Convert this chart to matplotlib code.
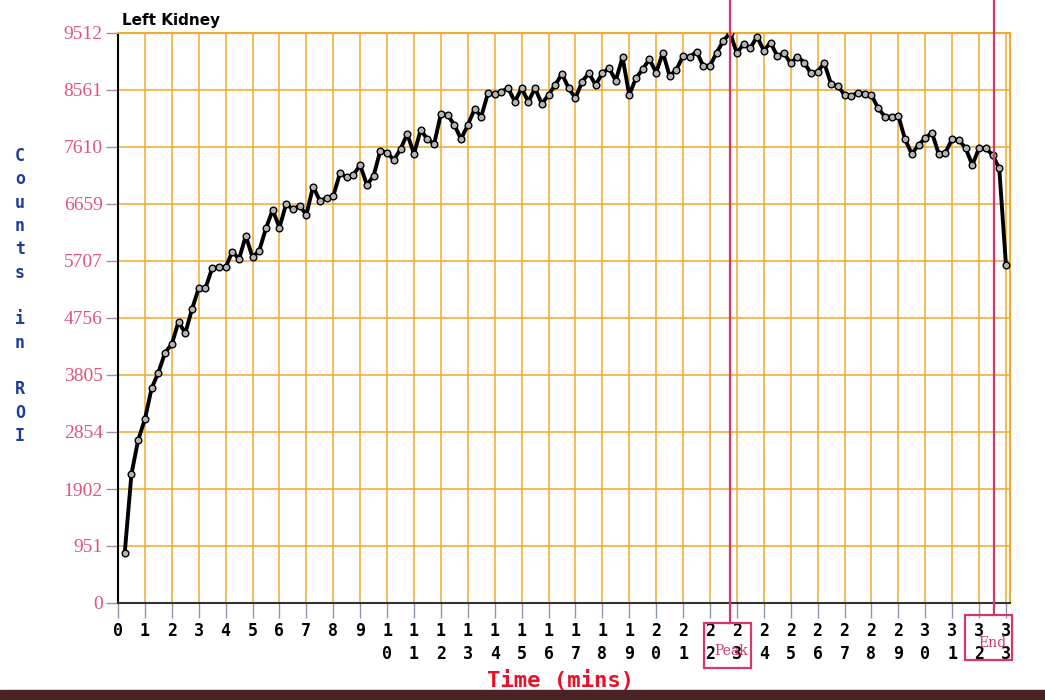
import matplotlib
matplotlib.use("Agg")
import matplotlib.pyplot as plt
from matplotlib.patches import Rectangle

# ---- data ----
frame_minutes = 0.25
counts = [
    830, 2150, 2720, 3066, 3583, 3844, 4178, 4318, 4695, 4501,
    4902, 5252, 5252, 5586, 5603, 5600, 5864, 5741, 6125, 5770,
    5880, 6253, 6559, 6264, 6659, 6570, 6631, 6476, 6949, 6715,
    6754, 6790, 7171, 7105, 7143, 7310, 6976, 7127, 7550, 7516,
    7394, 7572, 7828, 7494, 7894, 7739, 7661, 8161, 8144, 7978,
    7739, 7978, 8240, 8117, 8507, 8490, 8534, 8590, 8367, 8590,
    8367, 8590, 8328, 8479, 8645, 8829, 8590, 8423, 8701, 8841,
    8645, 8841, 8924, 8718, 9107, 8479, 8757, 8907, 9074, 8851,
    9185, 8796, 8896, 9129, 9107, 9202, 8963, 8963, 9185, 9385,
    9512, 9174, 9330, 9258, 9452, 9218, 9352, 9129, 9174, 9007,
    9118, 9018, 8841, 8868, 9007, 8662, 8629, 8479, 8460, 8518,
    8500, 8479, 8256, 8117, 8117, 8128, 7739, 7494, 7644, 7755,
    7850, 7494, 7516, 7739, 7728, 7589, 7310, 7589, 7589, 7477,
    7255, 5641,
]
times = [frame_minutes * (i + 1) for i in range(len(counts))]

y_ticks = [0, 951, 1902, 2854, 3805, 4756, 5707, 6659, 7610, 8561, 9512]
y_tick_labels = ["0", "951", "1902", "2854", "3805", "4756",
                 "5707", "6659", "7610", "8561", "9512"]
x_ticks = list(range(34))
x_tick_labels = ["0", "1", "2", "3", "4", "5", "6", "7", "8", "9",
                 "1\n0", "1\n1", "1\n2", "1\n3", "1\n4", "1\n5", "1\n6",
                 "1\n7", "1\n8", "1\n9", "2\n0", "2\n1", "2\n2", "2\n3",
                 "2\n4", "2\n5", "2\n6", "2\n7", "2\n8", "2\n9", "3\n0",
                 "3\n1", "3\n2", "3\n3"]
peak_time = 22.75
end_time = 32.55

title = "Left Kidney"
ylabel = "C\no\nu\nn\nt\ns\n\ni\nn\n\nR\nO\nI"
xlabel = "Time (mins)"

# ---- styling ----
grid_col = "#f0aa2e"
pink = "#d6386e"
ytick_col = "#e0557c"

fig = plt.figure(figsize=(10.45, 7), dpi=100)
fig.patch.set_facecolor("white")
ax = fig.add_axes([0.1129, 0.1386, 0.8536, 0.8143])

ax.set_xlim(0, 33.15)
ax.set_ylim(0, 9512)
ax.set_axisbelow(True)
ax.grid(True, color=grid_col, lw=1.1)

ax.plot(times, counts, color="black", lw=2.8, marker="o", ms=4.8,
        mfc="#b4b4b4", mec="black", mew=1.0, zorder=3)

ax.set_xticks(x_ticks)
ax.set_xticklabels(x_tick_labels, fontfamily="DejaVu Sans Mono",
                   fontweight="bold", fontsize=12, linespacing=1.3)
ax.set_yticks(y_ticks)
ax.set_yticklabels(y_tick_labels, fontfamily="Liberation Serif",
                   fontsize=14, color=ytick_col)
ax.tick_params(axis="x", length=11, color="#8a98ac", width=1, pad=3)
ax.tick_params(axis="y", length=9, color="#a89098", width=1, pad=2)

ax.spines["left"].set_color("black")
ax.spines["left"].set_linewidth(1.5)
ax.spines["bottom"].set_color("#333333")
ax.spines["bottom"].set_linewidth(1.5)
ax.spines["top"].set_color(grid_col)
ax.spines["top"].set_linewidth(1.5)
ax.spines["right"].set_color(grid_col)
ax.spines["right"].set_linewidth(1.5)

# Peak / End markers
trans = ax.get_xaxis_transform()
ax.plot([peak_time, peak_time], [-0.035, 1.06], transform=trans,
        color=pink, lw=1.6, clip_on=False, zorder=4)
ax.plot([end_time, end_time], [-0.021, 1.06], transform=trans,
        color=pink, lw=1.6, clip_on=False, zorder=4)
ax.add_patch(Rectangle((21.78, -0.114), 1.75, 0.079, transform=trans,
                       fill=False, ec=pink, lw=1.6, clip_on=False, zorder=4))
ax.add_patch(Rectangle((31.49, -0.100), 1.74, 0.079, transform=trans,
                       fill=False, ec=pink, lw=1.6, clip_on=False, zorder=4))
ax.text(peak_time + 0.05, -0.084, "Peak", transform=trans, ha="center",
        va="center", color=pink, fontsize=10, fontfamily="DejaVu Serif",
        zorder=5)
ax.text(end_time - 0.05, -0.07, "End", transform=trans, ha="center",
        va="center", color=pink, fontsize=10, fontfamily="DejaVu Serif",
        zorder=5)

# Texts
fig.text(122 / 1045, 1 - 20 / 700, title, ha="left", va="center",
         fontweight="bold", fontfamily="DejaVu Sans", fontsize=11,
         color="black")
fig.text(20 / 1045, 1 - 296 / 700, ylabel, ha="center", va="center",
         fontfamily="DejaVu Sans Mono", fontweight="bold", fontsize=12,
         color="#1f3b9e", linespacing=1.38)
fig.text(561 / 1045, 1 - 681 / 700, xlabel, ha="center", va="center",
         fontfamily="DejaVu Sans Mono", fontweight="bold", fontsize=16,
         color="#e8102a")

# scanned page edge at the bottom
fig.add_artist(Rectangle((0, 0), 1, 10 / 700, transform=fig.transFigure,
                         color="#4a2424", zorder=0))

fig.savefig("out.png", dpi=100)
